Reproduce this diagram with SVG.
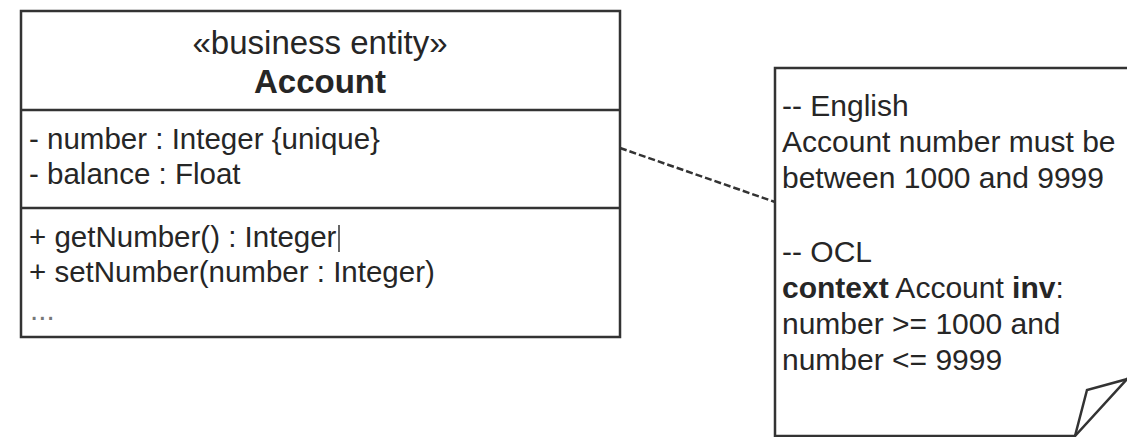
<svg xmlns="http://www.w3.org/2000/svg" width="1127" height="437" viewBox="0 0 1127 437">
<style>
.box{fill:#fff;stroke:#333;stroke-width:2.5}
.ln{stroke:#333;stroke-width:2.5;fill:none}
.t{font-family:"Liberation Sans",Arial,sans-serif;fill:#262626}
.c{font-size:29.5px}
.h{font-size:33px}
.n{font-size:30px}
.b{font-weight:bold}
.dots{fill:#777}
.dash{stroke:#333;stroke-width:2.5;stroke-dasharray:7,3;fill:none}
</style>
<rect width="1127" height="437" fill="#fff"/>
<g id="connectors">
<line class="dash" x1="620" y1="148" x2="775" y2="202"/>
</g>
<g id="account">
<rect class="box" x="21" y="11" width="599" height="326"/>
<line class="ln" x1="21" y1="110" x2="620" y2="110"/>
<line class="ln" x1="21" y1="208" x2="620" y2="208"/>
<text class="t h" x="320" y="54" text-anchor="middle">«business entity»</text>
<text class="t h b" x="320" y="93" text-anchor="middle">Account</text>
<text class="t c" x="29" y="149">- number : Integer {unique}</text>
<text class="t c" x="29" y="184">- balance : Float</text>
<text class="t c" x="29" y="247">+ getNumber() : Integer</text>
<line x1="339" y1="225" x2="339" y2="252" stroke="#333" stroke-width="1.5"/>
<text class="t c" x="29" y="282">+ setNumber(number : Integer)</text>
<text class="t c dots" x="30" y="320">...</text>
</g>
<g id="note">
<path class="box" d="M775,68 H1140 V365 L1075,436 H775 Z"/>
<path class="ln" d="M1075,436 L1087,390 L1135,377"/>
<text class="t n" x="782" y="116">-- English</text>
<text class="t n" x="782" y="152">Account number must be</text>
<text class="t n" x="782" y="188">between 1000 and 9999</text>
<text class="t n" x="782" y="262">-- OCL</text>
<text class="t n" x="782" y="298"><tspan class="b">context</tspan> Account <tspan class="b">inv</tspan>:</text>
<text class="t n" x="782" y="334">number &gt;= 1000 and</text>
<text class="t n" x="782" y="370">number &lt;= 9999</text>
</g>
</svg>
